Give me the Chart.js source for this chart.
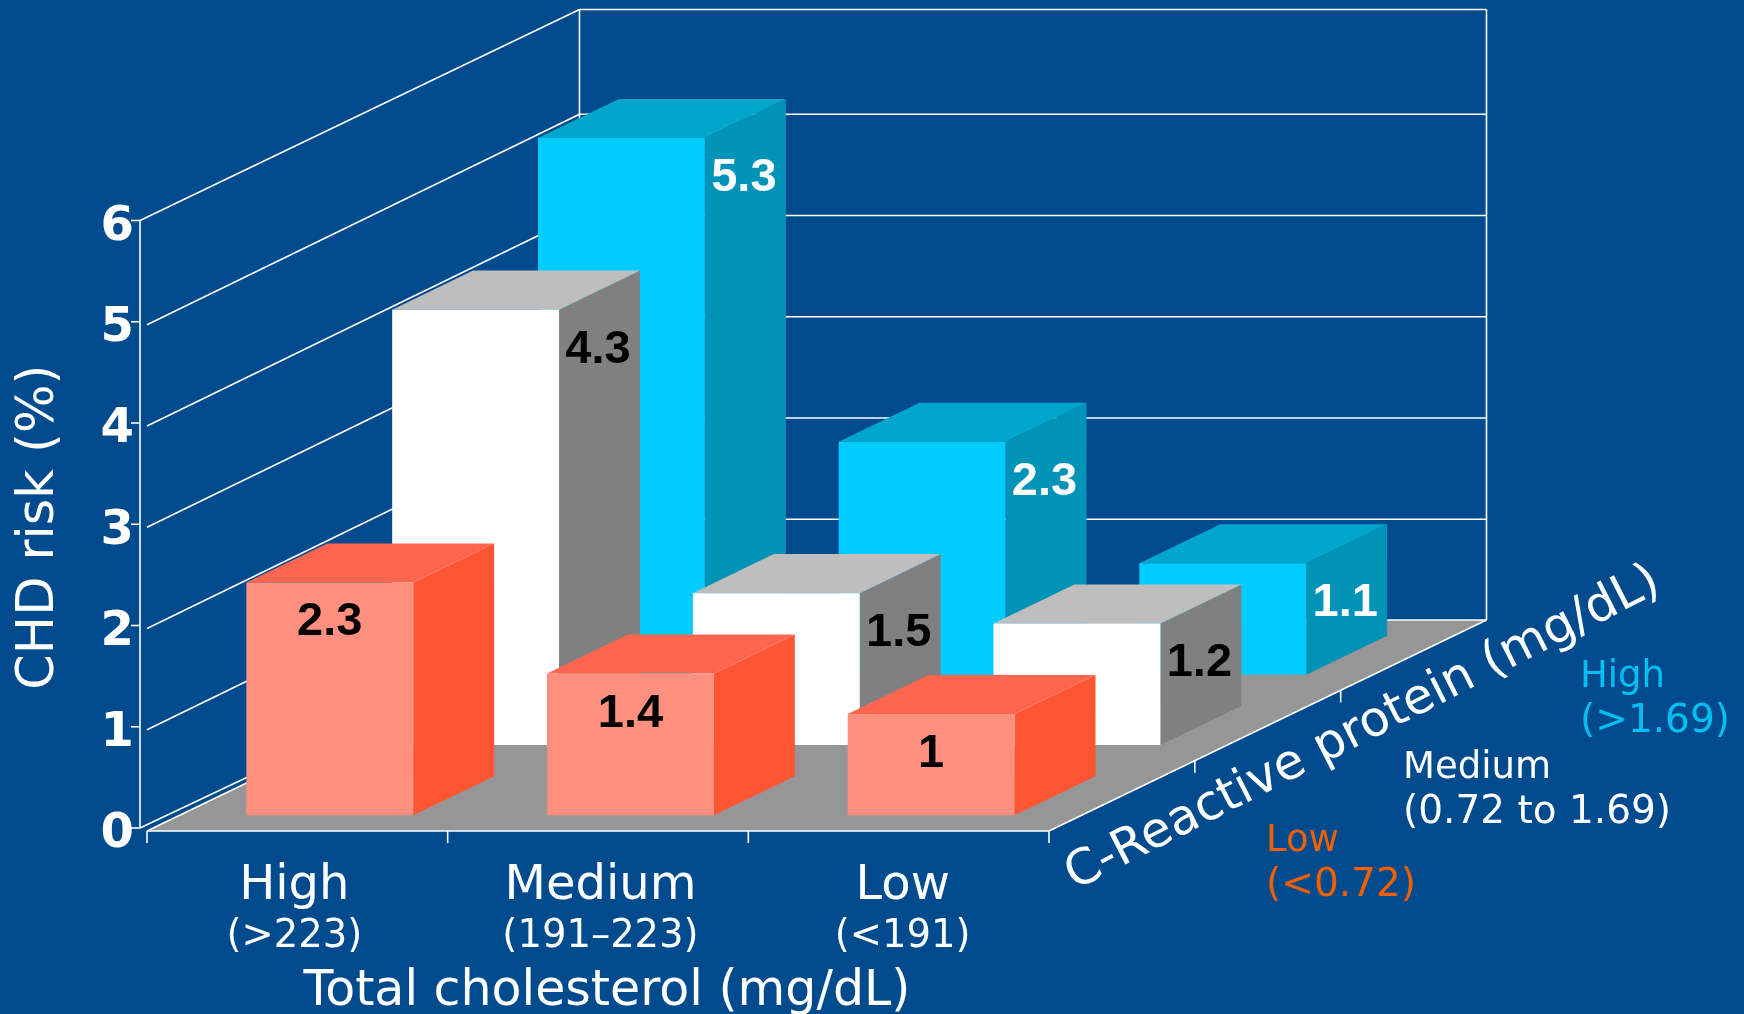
<!DOCTYPE html>
<html>
<head>
<meta charset="utf-8">
<title>CHD risk by total cholesterol and C-reactive protein</title>
<script src="https://cdn.jsdelivr.net/npm/chart.js@4"></script>
<style>
  html, body { margin: 0; padding: 0; background: #004b8d; overflow: hidden; }
  canvas { display: block; }
</style>
</head>
<body>
<canvas id="riskChart" width="1744" height="1014"></canvas>
<script>
// Categories along the front axis and along the depth axis
const cholesterolLabels = ['High', 'Medium', 'Low'];
const cholesterolRanges = ['(>223)', '(191–223)', '(<191)'];
const crpLabels = ['Low', 'Medium', 'High'];
const crpRanges = ['(<0.72)', '(0.72 to 1.69)', '(>1.69)'];

// CHD risk (%) per CRP level, ordered like cholesterolLabels
const lowCrpRisk = [2.3, 1.4, 1];
const mediumCrpRisk = [4.3, 1.5, 1.2];
const highCrpRisk = [5.3, 2.3, 1.1];

const valueTicks = [0, 1, 2, 3, 4, 5, 6];

// Oblique projection: one full step along the depth axis moves this far on screen
const depthX = 437.5;
const depthY = 211;
const barDepth = 0.185;

const white = '#ffffff';
const lineWidth = 1.6;
const sans = '"DejaVu Sans"';

const faces = [
  { front: '#ff9080', side: '#ff5533', top: '#ff6650', label: '#000000', text: '#f06000', onSide: false },
  { front: '#ffffff', side: '#808080', top: '#bebebe', label: '#000000', text: '#ffffff', onSide: true },
  { front: '#00ccff', side: '#0093b8', top: '#00a6cc', label: '#ffffff', text: '#00bff3', onSide: true }
];

// Front plane of a series, as a fraction of the floor depth
function frontDepth(series) {
  return (series + 0.5) / crpLabels.length - barDepth / 2;
}

function strokeLine(ctx, x1, y1, x2, y2) {
  ctx.beginPath();
  ctx.moveTo(x1, y1);
  ctx.lineTo(x2, y2);
  ctx.stroke();
}

// Floor, side wall and back wall, all hung on the chart's own scales
const roomPlugin = {
  id: 'room',
  beforeDatasetsDraw(chart) {
    const { ctx, scales: { x, y } } = chart;
    const left = x.left, right = x.right, floor = y.getPixelForValue(0);
    const wallX = left - 7, backX = wallX + depthX + 2;

    ctx.save();
    ctx.fillStyle = '#969696';
    ctx.beginPath();
    ctx.moveTo(left, floor);
    ctx.lineTo(right, floor);
    ctx.lineTo(right + depthX, floor - depthY);
    ctx.lineTo(left + depthX, floor - depthY);
    ctx.closePath();
    ctx.fill();

    ctx.strokeStyle = white;
    ctx.lineWidth = lineWidth;

    // floor edges
    strokeLine(ctx, left, floor, right, floor);
    strokeLine(ctx, left, floor, left + depthX, floor - depthY);
    strokeLine(ctx, right, floor, right + depthX, floor - depthY);

    // gridlines over both walls
    valueTicks.forEach(v => {
      const py = y.getPixelForValue(v);
      const edge = v === 0 || v === 6;
      const startX = edge ? wallX : left;
      const startY = edge ? py - 3 : py;
      const backY = v === 0 ? floor - depthY : (v === 6 ? py - 3 - depthY : py - depthY + 0.5);
      strokeLine(ctx, wallX - 9, py - 3, wallX, py - 3);
      strokeLine(ctx, startX, startY, backX, backY);
      strokeLine(ctx, backX, backY, right + depthX, backY);
    });

    // wall uprights
    const top = y.getPixelForValue(6) - 3;
    strokeLine(ctx, wallX, top, wallX, floor - 3);
    strokeLine(ctx, backX, top - depthY, backX, floor - depthY);
    strokeLine(ctx, right + depthX, top - depthY, right + depthX, floor - depthY);

    // tick marks under the front edge and the right floor edge
    const step = x.width / cholesterolLabels.length;
    for (let i = 0; i < cholesterolLabels.length; i++) {
      strokeLine(ctx, left + i * step, floor, left + i * step, floor + 12);
    }
    for (let i = 0; i < crpLabels.length; i++) {
      const f = i / crpLabels.length;
      const tx = right + f * depthX, ty = floor - f * depthY;
      strokeLine(ctx, tx, ty, tx, ty + 12);
    }
    ctx.restore();
  },
  // each series sits further back, so shift it along the depth axis
  beforeDatasetDraw(chart, args) {
    const { ctx } = chart;
    const f = frontDepth(args.index);
    const face = faces[args.index];
    const ox = f * depthX, oy = f * depthY;
    const dx = barDepth * depthX, dy = barDepth * depthY;

    ctx.save();
    ctx.translate(ox, -oy);
    args.meta.data.forEach(bar => {
      const l = bar.x - bar.width / 2, r = bar.x + bar.width / 2;
      ctx.fillStyle = face.side;
      ctx.beginPath();
      ctx.moveTo(r, bar.y);
      ctx.lineTo(r + dx, bar.y - dy);
      ctx.lineTo(r + dx, bar.base - dy);
      ctx.lineTo(r, bar.base);
      ctx.closePath();
      ctx.fill();

      ctx.fillStyle = face.top;
      ctx.beginPath();
      ctx.moveTo(l, bar.y);
      ctx.lineTo(l + dx, bar.y - dy);
      ctx.lineTo(r + dx, bar.y - dy);
      ctx.lineTo(r, bar.y);
      ctx.closePath();
      ctx.fill();
    });
  },
  afterDatasetDraw(chart, args) {
    const { ctx } = chart;
    const face = faces[args.index];
    const values = chart.data.datasets[args.index].data;
    const dx = barDepth * depthX;

    // value labels go on the side face, or the front face for the nearest row
    ctx.fillStyle = face.label;
    ctx.font = 'bold 47px "Liberation Sans"';
    ctx.textAlign = 'center';
    ctx.textBaseline = 'middle';
    args.meta.data.forEach((bar, i) => {
      const px = face.onSide ? bar.x + bar.width / 2 + dx / 2 - 1.5 : bar.x;
      ctx.fillText(String(values[i]), px, bar.y + 40);
    });
    ctx.restore();
  },
  afterDraw(chart) {
    const { ctx, scales: { x } } = chart;
    const labelNudge = [-3, 2.5, 4];
    ctx.save();
    ctx.textBaseline = 'alphabetic';

    // cholesterol categories on two lines, then the axis name
    ctx.fillStyle = white;
    ctx.textAlign = 'center';
    cholesterolLabels.forEach((text, i) => {
      ctx.font = '48px ' + sans;
      ctx.fillText(text, x.getPixelForValue(i) + labelNudge[i], 899);
      ctx.font = '38.5px ' + sans;
      ctx.fillText(cholesterolRanges[i], x.getPixelForValue(i) + labelNudge[i], 947);
    });
    ctx.font = '49px ' + sans;
    ctx.fillText('Total cholesterol (mg/dL)', 607, 1005);

    // CRP axis name runs along the right floor edge
    ctx.save();
    ctx.translate(1363, 729);
    ctx.rotate(-27 * Math.PI / 180);
    ctx.textBaseline = 'middle';
    ctx.fillText('C-Reactive protein (mg/dL)', 0, 0);
    ctx.restore();

    // CRP categories
    const crpX = [1266, 1403, 1580];
    const crpY = [851, 778, 687];
    ctx.textAlign = 'left';
    crpLabels.forEach((text, i) => {
      ctx.fillStyle = faces[i].text;
      ctx.font = '37px ' + sans;
      ctx.fillText(text, crpX[i], crpY[i]);
      ctx.font = '39px ' + sans;
      ctx.fillText(crpRanges[i], crpX[i], crpY[i] + 45);
    });
    ctx.restore();
  }
};

const ctxRisk = document.getElementById('riskChart').getContext('2d');
const riskChart = new Chart(ctxRisk, {
  type: 'bar',
  data: {
    labels: cholesterolLabels,
    datasets: [
      { label: crpLabels[0], data: lowCrpRisk, backgroundColor: faces[0].front },
      { label: crpLabels[1], data: mediumCrpRisk, backgroundColor: faces[1].front },
      { label: crpLabels[2], data: highCrpRisk, backgroundColor: faces[2].front }
    ]
  },
  options: {
    responsive: false,
    animation: false,
    layout: { padding: { top: 223.5, right: 695, left: 0, bottom: 0 } },
    datasets: {
      bar: {
        grouped: false,
        categoryPercentage: 0.555,
        barPercentage: 1,
        borderWidth: 0,
        inflateAmount: 0,
        clip: false
      }
    },
    plugins: {
      legend: { display: false },
      tooltip: { enabled: false },
      title: { display: false }
    },
    scales: {
      x: {
        grid: { display: false, drawTicks: false },
        border: { display: false },
        // category text has two font sizes, so the room plugin writes it
        ticks: { display: false },
        afterFit: scale => { scale.height = 183; }
      },
      y: {
        min: 0,
        max: 6,
        grid: { display: false, drawTicks: false },
        border: { display: false },
        afterBuildTicks: scale => { scale.ticks = valueTicks.map(value => ({ value })); },
        ticks: {
          color: white,
          font: { family: sans, size: 48, weight: 'bold' },
          padding: 13,
          labelOffset: 4
        },
        title: {
          display: true,
          text: 'CHD risk (%)',
          color: white,
          font: { family: sans, size: 51 },
          padding: { top: 9.5, bottom: 0 }
        },
        afterFit: scale => { scale.width = 147; }
      }
    }
  },
  plugins: [roomPlugin]
});
</script>
</body>
</html>
